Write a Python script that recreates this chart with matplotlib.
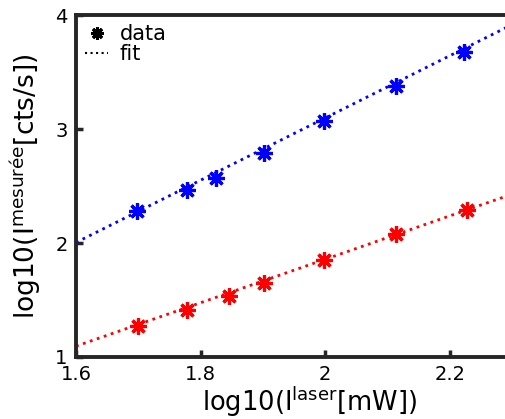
import numpy as np
import matplotlib
matplotlib.use("Agg")
import matplotlib.pyplot as plt
from matplotlib.lines import Line2D

# valeurs (log10)
x_bleu = [1.698, 1.778, 1.825, 1.902, 1.998, 2.114, 2.223]
y_bleu = [2.285, 2.469, 2.574, 2.793, 3.073, 3.379, 3.676]

x_rouge = [1.700, 1.778, 1.846, 1.902, 1.998, 2.114, 2.228]
y_rouge = [1.270, 1.410, 1.533, 1.647, 1.848, 2.075, 2.294]

# paramètres des ajustements lineaires (pente, ordonnée)
fit_bleu = [2.73, -2.363]
fit_rouge = [1.905, -1.953]

x_ticks = [1.6, 1.8, 2.0, 2.2]
x_tick_labels = ["1.6", "1.8", "2", "2.2"]
y_ticks = [1, 2, 3, 4]

asterisque = (8, 2, 0)

fig = plt.figure(figsize=(5.05, 4.19), dpi=100)
# l'axe dépasse à droite (figure rognée)
ax = fig.add_axes([0.1505, 0.148, 0.925, 0.816])

xf = np.array([1.6, 2.35])
ax.plot(xf, np.polyval(fit_bleu, xf), ':', color='blue', lw=2)
ax.plot(xf, np.polyval(fit_rouge, xf), ':', color='red', lw=2)
ax.plot(x_bleu, y_bleu, linestyle='none', marker=asterisque, color='blue',
        markersize=12, markeredgewidth=2.3)
ax.plot(x_rouge, y_rouge, linestyle='none', marker=asterisque, color='red',
        markersize=12, markeredgewidth=2.3)

ax.set_xlim(1.6, 2.35)
ax.set_ylim(1, 4)
ax.set_xticks(x_ticks)
ax.set_xticklabels(x_tick_labels)
ax.set_yticks(y_ticks)
ax.tick_params(direction='in', length=5, width=2.5, color='#262626',
               labelsize=14, pad=6)
for s in ax.spines.values():
    s.set_linewidth(2.8)
    s.set_color('#262626')

ax.set_xlabel(r'log10(I$^{\mathregular{laser}}$[mW])', fontsize=18.5, labelpad=0)
ax.set_ylabel(r'log10(I$^{\mathregular{mesurée}}$[cts/s])', fontsize=19, labelpad=9)

poignees = [
    Line2D([], [], linestyle='none', marker=asterisque, color='black',
           markersize=9, markeredgewidth=2.2),
    Line2D([], [], linestyle=':', color='black', lw=1.5),
]
ax.legend(poignees, ['data', 'fit'], loc='upper left', frameon=False,
          fontsize=15, handlelength=1.1, handletextpad=0.55,
          labelspacing=0.0, borderaxespad=0.25, borderpad=0.2)

fig.savefig('out.png', dpi=100)
